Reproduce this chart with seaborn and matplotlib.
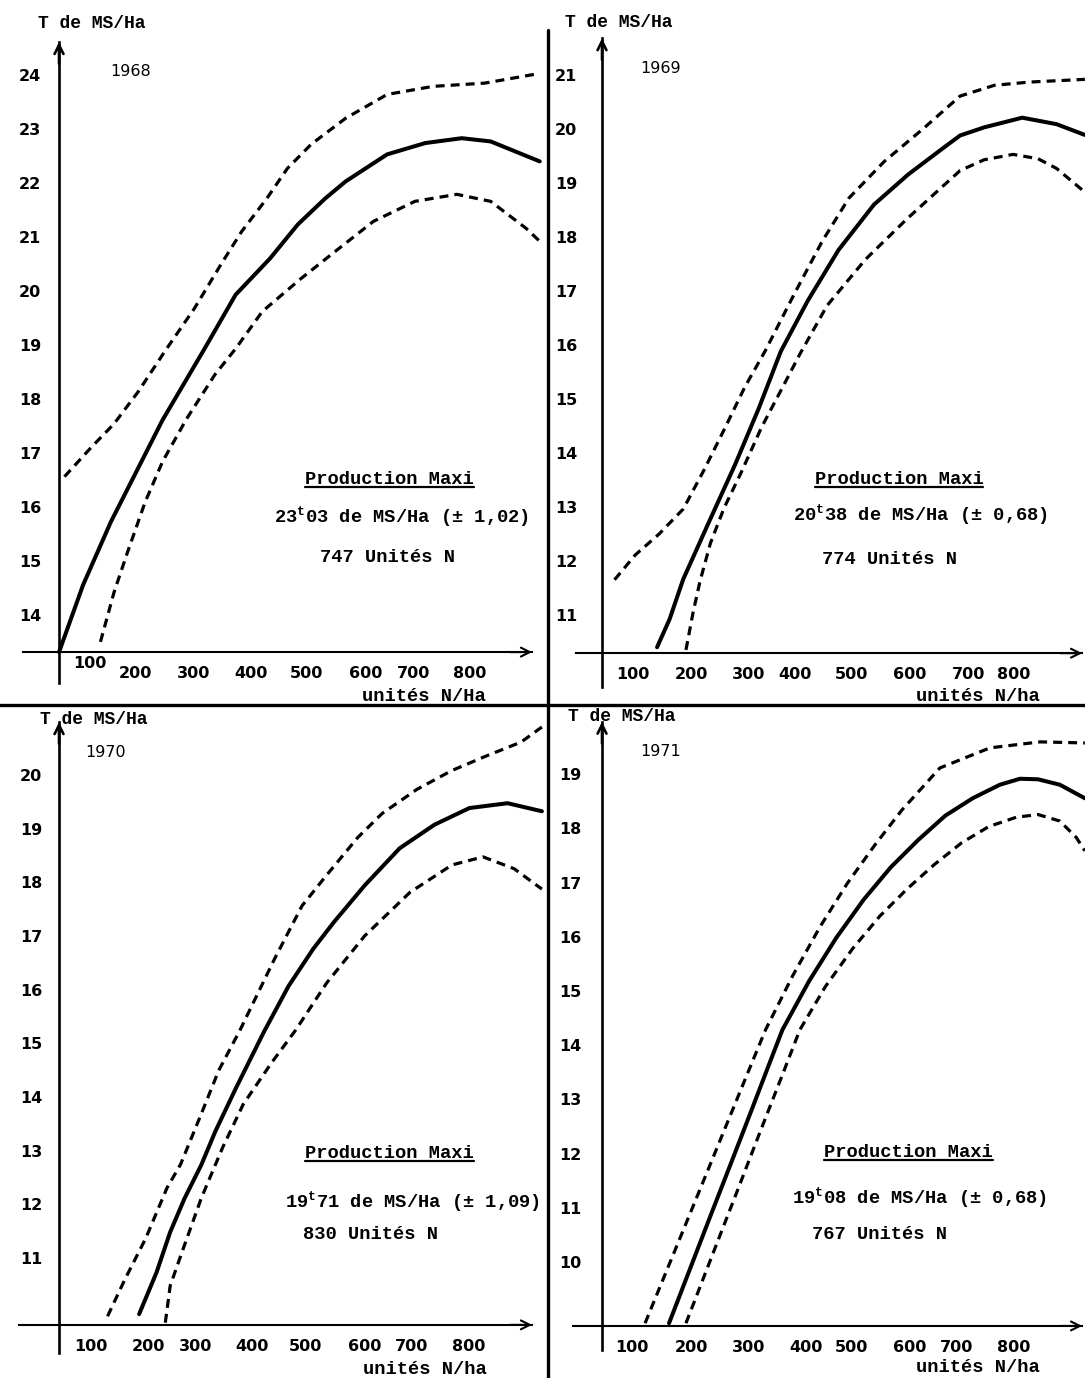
import matplotlib
matplotlib.use('Agg')
import matplotlib.pyplot as plt
from matplotlib.lines import Line2D
from matplotlib.transforms import ScaledTranslation
import seaborn as sns

sns.set_style('white')
plt.rcParams['font.family'] = ['DejaVu Sans']
plt.rcParams['text.color'] = 'black'
plt.rcParams['mathtext.fontset'] = 'custom'
plt.rcParams['mathtext.rm'] = 'Liberation Mono'
plt.rcParams['mathtext.bf'] = 'Liberation Mono:bold'
MONO = 'Liberation Mono'

# ---- data (N units/ha -> t DM/ha) ----
# 1968
N68_mid = [0, 44, 95, 190, 267, 324, 387, 438, 488, 526, 602, 672, 739, 792, 882]
T68_mid = [13.48, 14.72, 15.89, 17.78, 19.10, 20.10, 20.77, 21.40, 21.88, 22.20, 22.70, 22.91, 23.00, 22.94, 22.57]
N68_hi = [10, 57, 101, 145, 196, 248, 297, 335, 381, 419, 463, 526, 602, 686, 781, 882]
T68_hi = [16.73, 17.25, 17.71, 18.30, 19.08, 19.84, 20.66, 21.27, 21.88, 22.44, 22.89, 23.37, 23.81, 23.96, 24.02, 24.20]
N68_lo = [76, 101, 126, 158, 190, 234, 286, 324, 373, 444, 514, 577, 653, 730, 792, 857, 882]
T68_lo = [13.67, 14.59, 15.34, 16.26, 17.01, 17.80, 18.62, 19.10, 19.79, 20.40, 20.96, 21.46, 21.83, 21.96, 21.83, 21.33, 21.09]

# 1969
N69_mid = [101, 124, 149, 194, 244, 287, 328, 377, 434, 499, 562, 625, 657, 701, 771, 834, 886]
T69_mid = [10.57, 11.09, 11.83, 12.84, 13.95, 14.98, 16.05, 16.98, 17.93, 18.77, 19.33, 19.81, 20.05, 20.20, 20.38, 20.26, 20.06]
N69_hi = [23, 61, 105, 149, 187, 225, 262, 300, 352, 404, 453, 518, 591, 657, 720, 785, 886]
T69_hi = [11.82, 12.28, 12.67, 13.13, 13.85, 14.62, 15.39, 16.07, 17.10, 18.09, 18.89, 19.57, 20.19, 20.78, 20.98, 21.04, 21.09]
N69_lo = [154, 167, 180, 199, 224, 255, 293, 331, 363, 413, 483, 559, 622, 657, 701, 754, 800, 834, 886]
T69_lo = [10.52, 11.21, 11.80, 12.50, 13.15, 13.80, 14.65, 15.38, 16.00, 16.90, 17.75, 18.50, 19.08, 19.40, 19.60, 19.70, 19.62, 19.44, 19.00]

# 1970
N70_mid = [147, 179, 204, 230, 261, 287, 325, 376, 421, 466, 504, 561, 625, 689, 753, 823, 886]
T70_mid = [10.12, 10.90, 11.65, 12.27, 12.90, 13.53, 14.34, 15.38, 16.23, 16.92, 17.42, 18.11, 18.80, 19.24, 19.55, 19.64, 19.49]
N70_hi = [89, 121, 159, 198, 223, 261, 293, 332, 395, 446, 491, 548, 593, 657, 721, 784, 848, 886]
T70_hi = [10.08, 10.77, 11.53, 12.47, 12.91, 13.85, 14.66, 15.41, 16.73, 17.73, 18.30, 19.00, 19.45, 19.90, 20.25, 20.52, 20.78, 21.06]
N70_lo = [195, 204, 230, 261, 300, 338, 389, 434, 491, 561, 644, 721, 778, 835, 886]
T70_lo = [9.96, 10.65, 11.40, 12.28, 13.22, 14.03, 14.79, 15.41, 16.29, 17.17, 17.98, 18.49, 18.64, 18.42, 18.04]

# 1971
N71_mid = [123, 161, 199, 237, 274, 306, 331, 380, 430, 480, 530, 580, 630, 680, 730, 767, 800, 840, 886]
T71_mid = [9.04, 10.03, 11.02, 12.00, 12.96, 13.80, 14.45, 15.35, 16.15, 16.85, 17.45, 17.95, 18.40, 18.72, 18.97, 19.08, 19.07, 18.97, 18.72]
N71_hi = [79, 110, 148, 186, 230, 268, 300, 350, 400, 450, 500, 550, 620, 712, 804, 886]
T71_hi = [9.04, 9.80, 10.73, 11.66, 12.74, 13.67, 14.45, 15.45, 16.35, 17.15, 17.85, 18.50, 19.28, 19.65, 19.76, 19.74]
N71_lo = [154, 186, 218, 249, 287, 331, 363, 410, 460, 510, 560, 610, 660, 710, 760, 800, 840, 870, 886]
T71_lo = [9.04, 9.87, 10.70, 11.50, 12.49, 13.62, 14.45, 15.25, 15.95, 16.55, 17.05, 17.50, 17.90, 18.20, 18.37, 18.42, 18.30, 18.00, 17.75]

years = ['1968', '1969', '1970', '1971']
x_ticks = [100, 200, 300, 400, 500, 600, 700, 800]
x_labels = ['100', '200', '300', '400', '500', '600', '700', '800']
y_ticks = {'1968': range(14, 25), '1969': range(11, 22), '1970': range(11, 21), '1971': range(10, 20)}
max_text = {
    '1968': ['23$^{\\mathbf{t}}$03 de MS/Ha (± 1,02)', '747 Unités N'],
    '1969': ['20$^{\\mathbf{t}}$38 de MS/Ha (± 0,68)', '774 Unités N'],
    '1970': ['19$^{\\mathbf{t}}$71 de MS/Ha (± 1,09)', '830 Unités N'],
    '1971': ['19$^{\\mathbf{t}}$08 de MS/Ha (± 0,68)', '767 Unités N'],
}
x_titles = {'1968': 'unités N/Ha', '1969': 'unités N/ha', '1970': 'unités N/ha', '1971': 'unités N/ha'}
curves = {
    '1968': [(N68_hi, T68_hi), (N68_mid, T68_mid), (N68_lo, T68_lo)],
    '1969': [(N69_hi, T69_hi), (N69_mid, T69_mid), (N69_lo, T69_lo)],
    '1970': [(N70_hi, T70_hi), (N70_mid, T70_mid), (N70_lo, T70_lo)],
    '1971': [(N71_hi, T71_hi), (N71_mid, T71_mid), (N71_lo, T71_lo)],
}

# ---- layout (pixel boxes and hand-lettered positions of the original) ----
layout = {
    '1968': dict(box=(0, 0, 548, 705), xlim=(-108.3, 897.2), ylim=(12.50, 25.56), base=13.48,
                 xspan=(-67, 868), yspan=(12.91, 24.78), ypad=13,
                 xlab_pos=[57, 141, 246, 352, 455, 563, 650, 754],
                 ylab=(-38, 25.13), year=(94, 24.24),
                 ann=[(607, 16.67), (628, 15.98), (602, 15.24)], xtitle=(670, 12.65)),
    '1969': dict(box=(548, 0, 1085, 705), xlim=(-99.1, 886.2), ylim=(9.50, 22.56), base=10.46,
                 xspan=(-48, 881), yspan=(9.83, 21.85), ypad=18,
                 xlab_pos=[57, 164, 268, 354, 457, 565, 672, 756],
                 ylab=(-68, 22.15), year=(70, 21.30),
                 ann=[(545, 13.67), (584, 13.02), (528, 12.20)], xtitle=(690, 9.65)),
    '1970': dict(box=(0, 705, 548, 1378), xlim=(-108.3, 897.2), ylim=(8.93, 21.47), base=9.92,
                 xspan=(-73, 868), yspan=(9.40, 21.15), ypad=12,
                 xlab_pos=[59, 164, 250, 354, 453, 560, 646, 752],
                 ylab=(-35, 21.20), year=(48, 20.59),
                 ann=[(607, 13.12), (648, 12.21), (572, 11.60)], xtitle=(672, 9.08)),
    '1971': dict(box=(548, 705, 1085, 1378), xlim=(-99.1, 886.2), ylim=(8.03, 20.44), base=8.99,
                 xspan=(-53, 881), yspan=(8.54, 20.13), ypad=15,
                 xlab_pos=[55, 164, 268, 375, 457, 564, 650, 756],
                 ylab=(-62, 20.22), year=(70, 19.58),
                 ann=[(563, 12.18), (583, 11.35), (510, 10.68)], xtitle=(690, 8.23)),
}

W, H = 1085, 1378
fig = plt.figure(figsize=(W / 100, H / 100), dpi=100)
titles = []

for yr in years:
    L = layout[yr]
    x0, y0, x1, y1 = L['box']
    ax = fig.add_axes([x0 / W, 1 - y1 / H, (x1 - x0) / W, (y1 - y0) / H])
    ax.patch.set_visible(False)
    ax.set_xlim(*L['xlim'])
    ax.set_ylim(*L['ylim'])

    # curves: upper bound, fitted curve, lower bound
    for i, (n, t) in enumerate(curves[yr]):
        sns.lineplot(x=n, y=t, ax=ax, color='black', sort=False, estimator=None,
                     lw=2.9 if i == 1 else 2.3)
        if i != 1:
            ax.lines[-1].set_dashes((2.8, 1.9))

    # axes drawn through the origin, like the hand-made graph
    for s in ['top', 'right']:
        ax.spines[s].set_visible(False)
    ax.spines['left'].set_position(('data', 0))
    ax.spines['left'].set_bounds(*L['yspan'])
    ax.spines['left'].set_linewidth(1.9)
    ax.spines['bottom'].set_position(('data', L['base']))
    ax.spines['bottom'].set_bounds(*L['xspan'])
    ax.spines['bottom'].set_linewidth(1.5)
    for s in ['left', 'bottom']:
        ax.spines[s].set_color('black')
    ax.annotate('', xy=(0, L['yspan'][1]), xytext=(0, L['yspan'][1] - 0.4),
                arrowprops=dict(arrowstyle='->', color='black', lw=1.9,
                                shrinkA=0, shrinkB=0, mutation_scale=16))
    ax.annotate('', xy=(L['xspan'][1], L['base']), xytext=(L['xspan'][1] - 40, L['base']),
                arrowprops=dict(arrowstyle='->', color='black', lw=1.5,
                                shrinkA=0, shrinkB=0, mutation_scale=16))

    ax.set_yticks(list(y_ticks[yr]))
    ax.tick_params(axis='y', direction='in', length=9, width=1.8, pad=L['ypad'],
                   labelsize=11.5, colors='black')
    for lab in ax.get_yticklabels():
        lab.set_fontweight('bold')
        lab.set_va('bottom')
    ax.set_xticks(x_ticks, [''] * len(x_ticks))
    ax.set_xticks(L['xlab_pos'], x_labels, minor=True)
    ax.tick_params(axis='x', which='major', direction='in', length=8, width=1.6, colors='black')
    ax.tick_params(axis='x', which='minor', length=0, pad=10, labelsize=11.5, colors='black')
    for lab in ax.get_xticklabels(minor=True):
        lab.set_fontweight('bold')
    if yr == '1968':
        # the "100" of 1968 is lettered a little higher than the others
        lab = ax.get_xticklabels(minor=True)[0]
        lab.set_transform(lab.get_transform() + ScaledTranslation(0, 0.1, fig.dpi_scale_trans))
    ax.set_xlabel('')
    ax.set_ylabel('')

    ax.text(L['ylab'][0], L['ylab'][1], 'T de MS/Ha', family=MONO, weight='bold',
            fontsize=13, ha='left', va='center')
    ax.text(L['year'][0], L['year'][1], yr, fontsize=11.5, ha='left', va='center')
    t = ax.text(L['ann'][0][0], L['ann'][0][1], 'Production Maxi', family=MONO,
                weight='bold', fontsize=13.5, ha='center', va='center')
    titles.append(t)
    ax.text(L['ann'][1][0], L['ann'][1][1], max_text[yr][0], family=MONO,
            weight='bold', fontsize=13.5, ha='center', va='center')
    ax.text(L['ann'][2][0], L['ann'][2][1], max_text[yr][1], family=MONO,
            weight='bold', fontsize=13.5, ha='center', va='center')
    ax.text(L['xtitle'][0], L['xtitle'][1], x_titles[yr], family=MONO,
            weight='bold', fontsize=13.5, ha='center', va='center')

# underline "Production Maxi"
fig.canvas.draw()
r = fig.canvas.get_renderer()
for t in titles:
    bb = t.get_window_extent(r)
    fig.add_artist(Line2D([bb.x0 / W, bb.x1 / W], [(bb.y0 + 1) / H] * 2,
                          transform=fig.transFigure, color='black', lw=1.6))

# frame lines separating the four graphs
fig.add_artist(Line2D([548 / W, 548 / W], [0, 1 - 30 / H], transform=fig.transFigure,
                      color='black', lw=2.4))
fig.add_artist(Line2D([0, 1], [1 - 705 / H] * 2, transform=fig.transFigure,
                      color='black', lw=2.4))

fig.savefig('out.png', dpi=100, facecolor='white')
